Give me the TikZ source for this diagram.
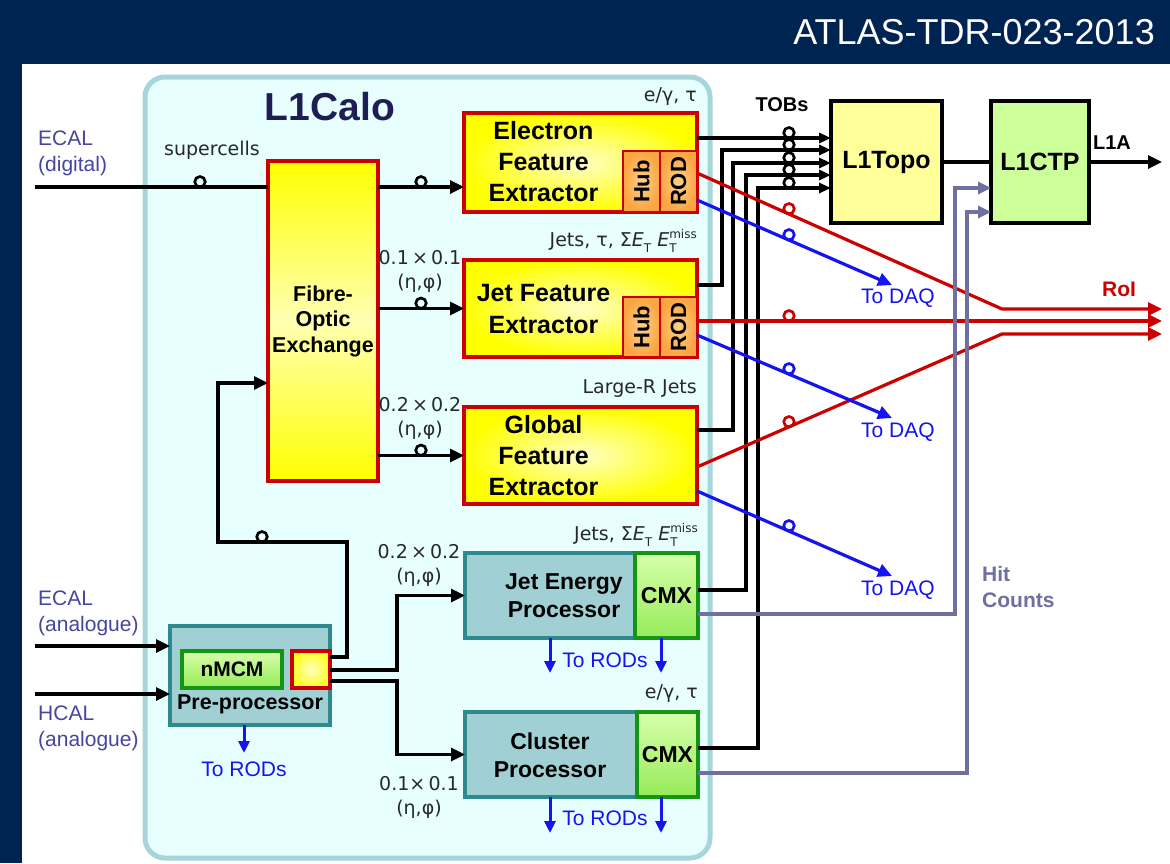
\documentclass[tikz,border=0pt]{standalone}
\usepackage{fontspec}
\setmainfont{Liberation Sans}
\newfontfamily\annotfont{DejaVu Sans}
\usetikzlibrary{arrows.meta}

\definecolor{navy}{RGB}{0,36,82}
\definecolor{calofill}{RGB}{232,255,255}
\definecolor{caloedge}{RGB}{166,214,218}
\definecolor{boxred}{RGB}{204,0,0}
\definecolor{hubin}{RGB}{255,208,135}
\definecolor{hubout}{RGB}{250,165,65}
\definecolor{tealfill}{RGB}{160,208,212}
\definecolor{tealedge}{RGB}{46,138,140}
\definecolor{cmxedge}{RGB}{20,150,20}
\definecolor{gtop}{RGB}{215,255,170}
\definecolor{gbot}{RGB}{150,235,90}
\definecolor{topofill}{RGB}{255,255,153}
\definecolor{ctpfill}{RGB}{204,255,153}
\definecolor{inlabel}{RGB}{70,70,160}
\definecolor{daqblue}{RGB}{20,20,240}
\definecolor{hitgray}{RGB}{112,112,160}
\definecolor{annotgray}{RGB}{40,40,40}
\definecolor{calotitle}{RGB}{30,30,85}

\newcommand\fsz[2]{\fontsize{#1}{#2}\selectfont}
\newcommand\subT{\raisebox{-0.3em}{\fsz{12}{12}T}}
\newcommand\ET{{\itshape E}\subT}
\newcommand\ETmiss{{\itshape E}\rlap{\subT}\raisebox{0.45em}{\fsz{12}{12}miss}}

\tikzset{
  wire/.style={line width=3.2pt, draw=black},
  arr/.style={wire, -{Triangle[length=14pt,width=13pt]}},
  tobarr/.style={wire, -{Triangle[length=12pt,width=10pt]}},
  roiline/.style={line width=3.2pt, draw=boxred, -{Triangle[length=14pt,width=13pt]}},
  daqline/.style={line width=3.2pt, draw=daqblue, -{Triangle[length=14pt,width=13pt]}},
  rodarr/.style={line width=3pt, draw=daqblue, -{Triangle[length=12pt,width=11pt]}},
  hitline/.style={line width=3.2pt, draw=hitgray, -{Triangle[length=13pt,width=12pt]}},
  tapc/.style={circle, draw, line width=2.7pt, minimum size=10.5pt, inner sep=0pt, outer sep=0pt, anchor=south},
  calobox/.style={draw=caloedge, fill=calofill, line width=5pt, rounded corners=20pt, inner sep=0pt},
  ybox/.style={draw=boxred, line width=3.2pt, inner sep=0pt, outer sep=0pt, inner color=yellow!22!white, outer color=yellow},
  hubbox/.style={draw=boxred, line width=2.6pt, inner sep=0pt, outer sep=0pt, inner color=hubin, outer color=hubout, rotate=90, font=\bfseries\fsz{22}{22}},
  pbox/.style={draw=tealedge, fill=tealfill, line width=3.2pt, inner sep=0pt, outer sep=0pt},
  gbox/.style={draw=cmxedge, line width=3.2pt, inner sep=0pt, outer sep=0pt, top color=gtop, bottom color=gbot},
  tbox/.style={draw=black, line width=3.4pt, inner sep=0pt, outer sep=0pt, font=\bfseries\fsz{25}{25}},
  btxt/.style={inner sep=0pt, align=center, font=\bfseries\fsz{25}{31}},
  note/.style={inner sep=0pt, text=annotgray, font=\annotfont\fsz{19}{24}},
  intxt/.style={inner sep=0pt, text=inlabel, anchor=west, align=left, font=\fsz{21}{26}},
  daqtxt/.style={inner sep=0pt, text=daqblue, font=\fsz{21}{21}},
}

\begin{document}
\begin{tikzpicture}[x=1pt,y=-1pt]
\useasboundingbox (0,0) rectangle (1170,863);
% page frame
\fill[navy] (0,0) rectangle (1170,863);
\fill[white] (22,64) rectangle (1170,863);
\node[anchor=base east, text=white, inner sep=0pt, font=\fsz{36}{36}] (hdr) at (1155,44) {ATLAS-TDR-023-2013};

% L1Calo enclosure
\node[calobox, minimum width=565pt, minimum height=781pt] (calo) at (427.5,467.5) {};
\node[text=calotitle, font=\bfseries\fsz{39}{39}, inner sep=0pt] (calottl) at (330,107) {L1Calo};

% calorimeter inputs
\node[intxt] (ecaldig) at (38,153) {ECAL\\(digital)};
\node[intxt] (ecalana) at (38,613) {ECAL\\(analogue)};
\node[intxt] (hcalana) at (38,728) {HCAL\\(analogue)};

% fibre-optic exchange
\node[ybox, minimum width=110pt, minimum height=320pt, top color=yellow, bottom color=yellow, middle color=yellow!30!white,
      font=\bfseries\fsz{21.5}{25.5}, align=center] (fox) at (323,321) {Fibre-\\Optic\\Exchange};

% feature extractors
\node[ybox, minimum width=233pt, minimum height=99pt] (efex) at (580.5,162.5) {};
\node[btxt] (efext) at (543.5,162) {Electron\\Feature\\Extractor};
\node[hubbox, minimum width=61pt, minimum height=37pt] (efhub) at (641.5,181.5) {Hub};
\node[hubbox, minimum width=61pt, minimum height=37pt] (efrod) at (678.5,181.5) {ROD};

\node[ybox, minimum width=233pt, minimum height=97pt] (jfex) at (580.5,308.5) {};
\node[btxt, font=\bfseries\fsz{25}{32}] (jfext) at (543.5,309) {Jet Feature\\Extractor};
\node[hubbox, minimum width=60pt, minimum height=37pt] (jfhub) at (641.5,327) {Hub};
\node[hubbox, minimum width=60pt, minimum height=37pt] (jfrod) at (678.5,327) {ROD};

\node[ybox, minimum width=233pt, minimum height=97pt] (gfex) at (580.5,455.5) {};
\node[btxt] (gfext) at (543.5,456) {Global\\Feature\\Extractor};

% legacy processors
\node[pbox, minimum width=233pt, minimum height=85pt] (jep) at (581.5,595.5) {};
\node[gbox, minimum width=63pt, minimum height=85pt, font=\bfseries\fsz{23}{23}] (jepcmx) at (666.5,595.5) {CMX};
\node[btxt, font=\bfseries\fsz{23}{28}] (jept) at (564,596) {Jet Energy\\Processor};

\node[pbox, minimum width=233pt, minimum height=85pt] (cp) at (581.5,754.5) {};
\node[gbox, minimum width=61pt, minimum height=85pt, font=\bfseries\fsz{23}{23}] (cpcmx) at (667.5,754.5) {CMX};
\node[btxt, font=\bfseries\fsz{23}{28}] (cpt) at (550,755) {Cluster\\Processor};

% pre-processor
\node[pbox, minimum width=160pt, minimum height=99pt] (ppr) at (250,675.5) {};
\node[gbox, minimum width=100pt, minimum height=37pt, font=\bfseries\fsz{21}{21}] (nmcm) at (232,669.5) {nMCM};
\node[ybox, minimum width=38pt, minimum height=37pt, inner color=yellow!25!white, outer color=yellow!85!white] (ppout) at (311,669.5) {};
\node[inner sep=0pt, font=\bfseries\fsz{21.5}{21.5}] (pprt) at (250,704) {Pre-processor};

% topology and central trigger
\node[tbox, fill=topofill, minimum width=111pt, minimum height=122pt] (topo) at (886.5,162) {L1Topo};
\node[tbox, fill=ctpfill, minimum width=98pt, minimum height=122pt] (ctp) at (1040,162) {L1CTP};
\node[inner sep=0pt, font=\bfseries\fsz{20}{20}] (l1a) at (1112,143) {L1A};
\node[inner sep=0pt, font=\bfseries\fsz{20}{20}] (tobs) at (782,105) {TOBs};
\node[inner sep=0pt, text=boxred, font=\bfseries\fsz{21}{21}] (roilbl) at (1119,289) {RoI};
\node[inner sep=0pt, text=hitgray, font=\bfseries\fsz{21}{26}, align=left, anchor=west] (hitlbl) at (982,587) {Hit\\Counts};

% granularity and object annotations
\node[note] (nsc) at (212,150) {supercells};
\node[note, anchor=east] (nef) at (697,97) {e/γ, τ};
\node[note, anchor=east] (njf) at (697,241) {Jets, τ, Σ\ET{} \ETmiss};
\node[note, anchor=east] (ngf) at (697,389) {Large-R Jets};
\node[note, anchor=east] (nje) at (698,535) {Jets, Σ\ET{} \ETmiss};
\node[note, anchor=east] (ncp) at (698,694) {e/γ, τ};
\node[note, align=center] (g1) at (420,271) {0.1\,×\,0.1\\(η,φ)};
\node[note, align=center] (g2) at (420,418.5) {0.2\,×\,0.2\\(η,φ)};
\node[note, align=center] (g3) at (419,565.5) {0.2\,×\,0.2\\(η,φ)};
\node[note, align=center] (g4) at (419,797.5) {0.1×\,0.1\\(η,φ)};

% digital path
\coordinate (ecalin) at (35,187);
\draw[wire] (ecalin) -- (ecalin -| fox.west);
\draw[arr] (fox.east |- ecalin) -- (efex.west |- ecalin);
\node[tapc] (c1) at (200,187) {};
\node[tapc] (c2) at (421,187) {};
\draw[arr] (fox.east |- jfex.west) -- (jfex.west);
\node[tapc] (c3) at (421,308.5) {};
\draw[arr] (fox.east |- gfex.west) -- (gfex.west);
\node[tapc] (c4) at (421,455.5) {};

% analogue path
\coordinate (ecalain) at (35,646);
\coordinate (hcalain) at (35,694);
\draw[arr] (ecalain) -- (ecalain -| ppr.west);
\draw[arr] (hcalain) -- (hcalain -| ppr.west);
\draw[arr] (ppout.east |- 0,657) -| (347,542) -| (218,383) -- (fox.west |- 0,383);
\node[tapc] (c5) at (262,542) {};
\draw[arr] (ppout.east |- 0,670) -- (397,670) |- (jep.west);
\draw[arr] (ppout.east |- 0,681) -- (397,681) |- (cp.west);

% readout arrows
\draw[rodarr] (ppr.south -| 244,0) -- (244,753);
\node[daqtxt] (r1) at (244,769) {To RODs};
\draw[rodarr] (jep.south -| 550,0) -- (550,673);
\draw[rodarr] (jep.south -| 661,0) -- (661,673);
\node[daqtxt] (r2) at (605,660) {To RODs};
\draw[rodarr] (cp.south -| 550,0) -- (550,833);
\draw[rodarr] (cp.south -| 661,0) -- (661,833);
\node[daqtxt] (r3) at (605,818) {To RODs};

% trigger objects to L1Topo
\draw[tobarr] (efex.east |- 0,138) -- (topo.west |- 0,138);
\draw[tobarr] (jfex.east |- 0,285) -- (722,285) |- (topo.west |- 0,150);
\draw[tobarr] (gfex.east |- 0,430) -- (733,430) |- (topo.west |- 0,163);
\draw[tobarr] (jepcmx.east |- 0,590) -- (746,590) |- (topo.west |- 0,175);
\draw[tobarr] (cpcmx.east |- 0,748) -- (758,748) |- (topo.west |- 0,188);
\foreach \y [count=\i] in {138,150,163,175,188} \node[tapc] (tob\i) at (789,\y) {};

% regions of interest
\coordinate (roi1) at (1162,309);
\coordinate (roi2) at (1162,321);
\coordinate (roi3) at (1162,334);
\draw[roiline] (efex.east |- 0,173) -- (1002,309) -- (roi1);
\draw[roiline] (jfex.east |- roi2) -- (roi2);
\draw[roiline] (gfex.east |- 0,467) -- (1002,334) -- (roi3);
\node[tapc, draw=boxred] (rc1) at (789,214) {};
\node[tapc, draw=boxred] (rc2) at (789,321) {};
\node[tapc, draw=boxred] (rc3) at (789,427) {};

% readout to DAQ
\coordinate (daq1) at (892,285);
\coordinate (daq2) at (892,418);
\coordinate (daq3) at (892,576);
\draw[daqline] (efex.east |- 0,200) -- (daq1);
\draw[daqline] (jfex.east |- 0,335) -- (daq2);
\draw[daqline] (gfex.east |- 0,491) -- (daq3);
\node[tapc, draw=daqblue] (bc1) at (789,240) {};
\node[tapc, draw=daqblue] (bc2) at (789,374) {};
\node[tapc, draw=daqblue] (bc3) at (789,531) {};
\node[daqtxt, anchor=west] (d1) at (861,298) {To DAQ};
\node[daqtxt, anchor=west] (d2) at (861,432) {To DAQ};
\node[daqtxt, anchor=west] (d3) at (861,590) {To DAQ};

% hit counts to the CTP
\draw[hitline] (jepcmx.east |- 0,614) -| (955,188) -- (ctp.west |- 0,188);
\draw[hitline] (cpcmx.east |- 0,773) -| (967,212) -- (ctp.west |- 0,212);

% L1Topo -> L1CTP -> L1A
\coordinate (l1aout) at (1162,162);
\draw[wire] (topo.east) -- (ctp.west);
\draw[arr] (ctp.east) -- (l1aout);
\end{tikzpicture}
\end{document}
